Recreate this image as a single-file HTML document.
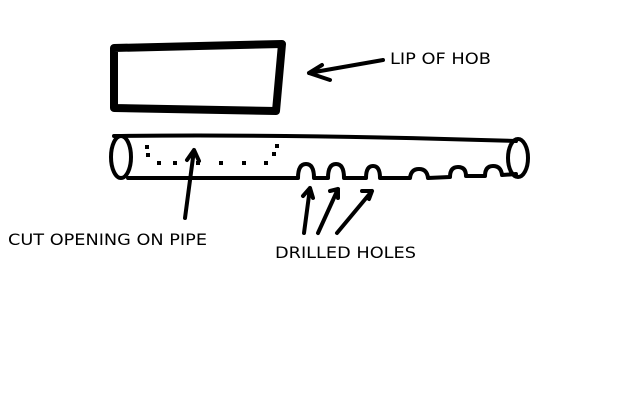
<!DOCTYPE html>
<html><head><style>
html,body{margin:0;padding:0;background:#fff;width:640px;height:400px;overflow:hidden}
svg{display:block}
text{font-family:"DejaVu Sans","Liberation Sans",sans-serif;font-size:16px;fill:#000}
</style></head><body>
<svg width="640" height="400" viewBox="0 0 640 400">
<g fill="none" stroke="#000" stroke-linecap="round" stroke-linejoin="round">
<path d="M114,48 L282,44 L276,111 L114,108 Z" stroke-width="8"/>
<g stroke-width="4">
<path d="M114,136 Q300,134 516,141"/>
<path d="M128,178 L298,178 Q298,164 306,164 Q314,164 314,178 L328,178 Q328,164 336,164 Q344,164 344,178 L366,178 Q366,166 373,166 Q380,166 380,178 L410,178 Q411,169 419,169 Q427,169 428,178 L450,177 Q450,167 458,167 Q466,167 466,176 L485,176 Q485,166 493,166 Q501,166 502,175 L516,174"/>
<ellipse cx="121" cy="157" rx="10" ry="21"/>
<ellipse cx="518" cy="158" rx="10" ry="19"/>
<path d="M185,218 L194,150 M187,160 L194,150 L199,161"/>
<path d="M304,233 L310,188 M303,196 L310,188 L313,198"/>
<path d="M318,233 L338,189 M330,191 L338,189 L338,198"/>
<path d="M337,233 L372,191 M362,191 L372,191 L369,199"/>
<path d="M383,60 L309,73 M322,65 L309,73 L330,80"/>
</g>
</g>
<g fill="#000">
<rect x="145" y="145" width="4" height="4"/>
<rect x="146" y="153" width="4" height="4"/>
<rect x="157" y="161" width="4" height="4"/>
<rect x="173" y="161" width="4" height="4"/>
<rect x="196" y="161" width="4" height="4"/>
<rect x="219" y="161" width="4" height="4"/>
<rect x="242" y="161" width="4" height="4"/>
<rect x="264" y="161" width="4" height="4"/>
<rect x="272" y="152" width="4" height="4"/>
<rect x="275" y="144" width="4" height="4"/>
</g>
<text x="390" y="64" textLength="101" lengthAdjust="spacingAndGlyphs">LIP OF HOB</text>
<text x="8" y="245" textLength="199" lengthAdjust="spacingAndGlyphs">CUT OPENING ON PIPE</text>
<text x="275" y="258" textLength="141" lengthAdjust="spacingAndGlyphs">DRILLED HOLES</text>
</svg>
</body></html>
